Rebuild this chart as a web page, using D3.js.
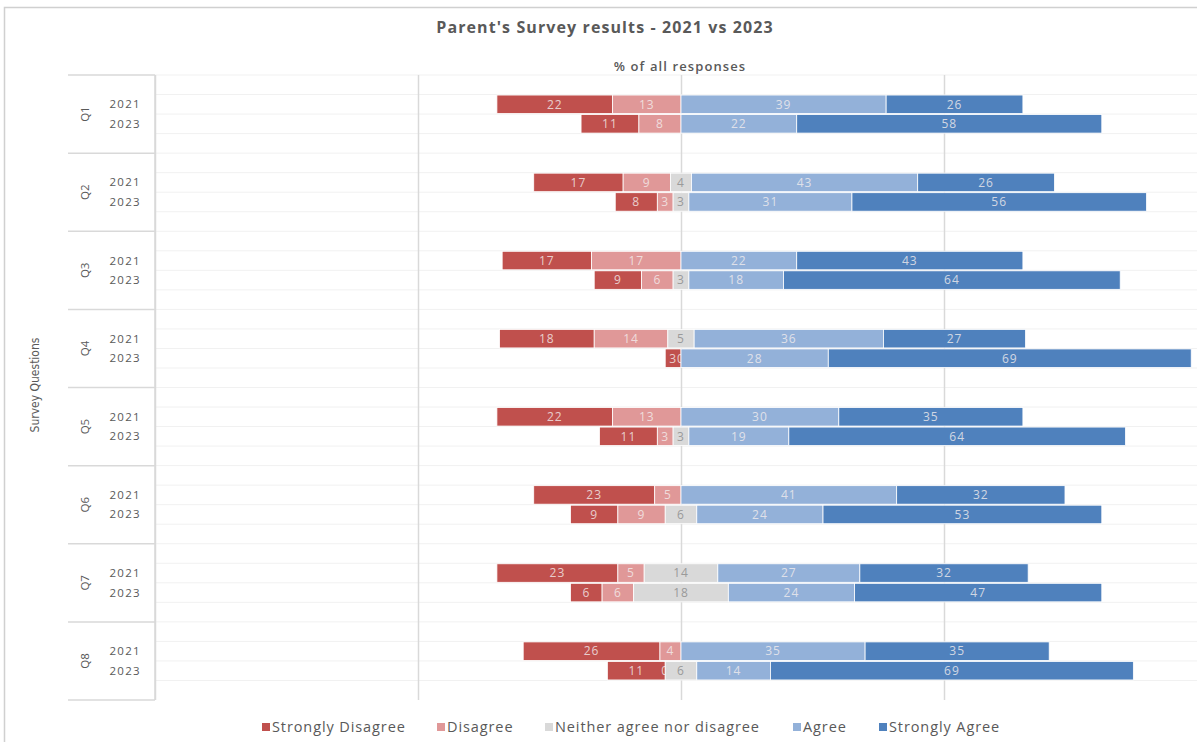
<!DOCTYPE html>
<html>
<head>
<meta charset="utf-8">
<script src="https://cdn.jsdelivr.net/npm/d3@7"></script>
<style>
  body { margin: 0; background: #fff; }
  svg { display: block; font-family: "Open Sans", sans-serif; }
</style>
</head>
<body>
<svg id="chart" width="1197" height="742"></svg>
<script>
// data
const questions = ["Q1", "Q2", "Q3", "Q4", "Q5", "Q6", "Q7", "Q8"];
const years = ["2021", "2023"];
const categories = ["Strongly Disagree", "Disagree", "Neither agree nor disagree", "Agree", "Strongly Agree"];
const colors = ["#c0504d", "#e09898", "#d9d9d9", "#93b1d9", "#4f81bd"];

const stronglyDisagree2021 = [22, 17, 17, 18, 22, 23, 23, 26];
const stronglyDisagree2023 = [11, 8, 9, 3, 11, 9, 6, 11];
const disagree2021 = [13, 9, 17, 14, 13, 5, 5, 4];
const disagree2023 = [8, 3, 6, 0, 3, 9, 6, 0];
const neutral2021 = [null, 4, null, 5, null, null, 14, null];
const neutral2023 = [null, 3, 3, null, 3, 6, 18, 6];
const agree2021 = [39, 43, 22, 36, 30, 41, 27, 35];
const agree2023 = [22, 31, 18, 28, 19, 24, 24, 14];
const stronglyAgree2021 = [26, 26, 43, 27, 35, 32, 32, 35];
const stronglyAgree2023 = [58, 56, 64, 69, 64, 53, 47, 69];

const xTicks = [-100, -50, 0, 50, 100];

const byYear = {
  "2021": [stronglyDisagree2021, disagree2021, neutral2021, agree2021, stronglyAgree2021],
  "2023": [stronglyDisagree2023, disagree2023, neutral2023, agree2023, stronglyAgree2023]
};

// build rows: one per question/year, segments laid out around zero
const rows = [];
questions.forEach((q, qi) => {
  years.forEach(yr => {
    const v = byYear[yr].map(arr => arr[qi]);
    const n = v[2] || 0;
    let start = -(v[0] + v[1] + n / 2);
    const segs = v.map((val, ci) => {
      const s = { q, yr, ci, value: val, x0: start, x1: start + (val || 0) };
      start += (val || 0);
      return s;
    });
    rows.push({ q, yr, segs });
  });
});

const svg = d3.select("#chart");
const textCol = "#595959";

// outer frame
svg.append("rect")
  .attr("x", 4.5).attr("y", 7.5)
  .attr("width", 1220).attr("height", 760)
  .attr("fill", "none").attr("stroke", "#d0d0d0").attr("stroke-width", 1.5);

const plot = { left: 155, right: 1207, top: 75, bottom: 700 };

const x = d3.scaleLinear().domain([-100, 100]).range([plot.left, plot.right]);
const yQ = d3.scaleBand().domain(questions).range([plot.top, plot.bottom]);
const slots = ["pre", "2021", "2023", "post"];
const yS = d3.scaleBand().domain(slots).range([0, yQ.bandwidth()]);

// faint horizontal lines at slot boundaries
const g = svg.append("g");
questions.forEach(q => {
  slots.forEach(s => {
    g.append("line")
      .attr("x1", plot.left).attr("x2", 1197)
      .attr("y1", yQ(q) + yS(s)).attr("y2", yQ(q) + yS(s))
      .attr("stroke", "#f1f1f1").attr("stroke-width", 1);
  });
});

// vertical gridlines
const xAxis = d3.axisBottom(x).tickValues(xTicks).tickSize(-(plot.bottom - plot.top)).tickFormat("");
const xg = g.append("g")
  .attr("transform", "translate(0," + plot.bottom + ")")
  .call(xAxis);
xg.select(".domain").remove();
xg.selectAll(".tick line").attr("stroke", "#d9d9d9").attr("stroke-width", 1.5);

// left category axis
g.append("line")
  .attr("x1", plot.left).attr("x2", plot.left)
  .attr("y1", plot.top).attr("y2", plot.bottom)
  .attr("stroke", "#d9d9d9").attr("stroke-width", 1.5);

questions.concat(["end"]).forEach((q, i) => {
  const yy = plot.top + i * yQ.bandwidth();
  g.append("line")
    .attr("x1", 68).attr("x2", plot.left)
    .attr("y1", yy).attr("y2", yy)
    .attr("stroke", "#d9d9d9").attr("stroke-width", 1.5);
});

questions.forEach(q => {
  const cy = yQ(q) + yQ.bandwidth() / 2;
  g.append("text")
    .attr("transform", "translate(85," + cy + ") rotate(-90)")
    .attr("text-anchor", "middle")
    .attr("dy", "0.35em")
    .attr("font-size", 11.5)
    .attr("fill", textCol)
    .text(q);
  years.forEach(yr => {
    g.append("text")
      .attr("x", 141)
      .attr("y", yQ(q) + yS(yr) + yS.bandwidth() / 2)
      .attr("dy", "0.35em")
      .attr("text-anchor", "end")
      .attr("font-size", 11.5)
      .attr("letter-spacing", 1.3)
      .attr("fill", textCol)
      .text(yr);
  });
});

// bars, one layer per category so later ones sit on earlier labels
const barH = 18.5;
categories.forEach((cat, ci) => {
  const layer = g.append("g");
  const segs = rows.map(r => r.segs[ci]).filter(s => s.value !== null);
  layer.selectAll("rect")
    .data(segs.filter(s => s.value > 0))
    .join("rect")
    .attr("x", d => x(d.x0))
    .attr("width", d => x(d.x1) - x(d.x0))
    .attr("y", d => yQ(d.q) + yS(d.yr) + (yS.bandwidth() - barH) / 2)
    .attr("height", barH)
    .attr("fill", colors[ci])
    .attr("stroke", "#fff")
    .attr("stroke-width", 0.8);
  layer.selectAll("text")
    .data(segs)
    .join("text")
    .attr("x", d => x((d.x0 + d.x1) / 2))
    .attr("y", d => yQ(d.q) + yS(d.yr) + yS.bandwidth() / 2)
    .attr("dy", "0.36em")
    .attr("text-anchor", "middle")
    .attr("font-size", 12)
    .attr("letter-spacing", 1)
    .attr("fill", ci === 2 ? "#9a9a9a" : "#f4eeee")
    .attr("fill-opacity", ci === 2 ? 1 : 0.8)
    .text(d => d.value);
});

// titles
svg.append("text")
  .attr("x", 605).attr("y", 33)
  .attr("text-anchor", "middle")
  .attr("font-size", 16).attr("font-weight", 700)
  .attr("letter-spacing", 1.1)
  .attr("fill", textCol)
  .text("Parent's Survey results - 2021 vs 2023");

svg.append("text")
  .attr("x", 680).attr("y", 71)
  .attr("text-anchor", "middle")
  .attr("font-size", 13).attr("font-weight", 600)
  .attr("letter-spacing", 1.1)
  .attr("fill", textCol)
  .text("% of all responses");

svg.append("text")
  .attr("transform", "translate(39,385) rotate(-90)")
  .attr("text-anchor", "middle")
  .attr("font-size", 12)
  .attr("font-family", "'Liberation Sans Narrow', 'DejaVu Sans Condensed', sans-serif")
  .attr("fill", textCol)
  .text("Survey Questions");

// legend
const legendX = [262, 437, 545, 793, 879];
const legend = svg.append("g").attr("transform", "translate(0,727)");
categories.forEach((cat, ci) => {
  legend.append("rect")
    .attr("x", legendX[ci]).attr("y", -4)
    .attr("width", 8).attr("height", 8)
    .attr("fill", colors[ci]);
  legend.append("text")
    .attr("x", legendX[ci] + 10).attr("y", 0)
    .attr("dy", "0.35em")
    .attr("font-size", 14.5)
    .attr("letter-spacing", 0.9)
    .attr("fill", textCol)
    .text(cat);
});
</script>
</body>
</html>
